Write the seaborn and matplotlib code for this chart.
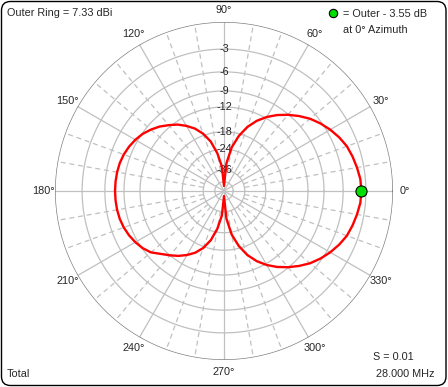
import numpy as np
import seaborn as sns
import matplotlib.pyplot as plt
from matplotlib.patches import FancyBboxPatch

# azimuth pattern, dB relative to the outer ring (outer ring = 7.33 dBi)
azimuth_deg = list(range(0, 365, 5))
rel_db = [-3.55, -3.62, -3.85, -4.1, -4.4, -4.9, -5.5, -6.2, -7.0, -8.0,
          -9.1, -10.3, -11.7, -13.4, -15.6, -18.7, -23.0, -31.0, -60.0, -33.0,
          -25.5, -20.5, -17.5, -15.4, -13.9, -12.6, -11.6, -10.6, -9.8, -9.1,
          -8.6, -8.2, -7.9, -7.7, -7.6, -7.55, -7.53, -7.55, -7.6, -7.7,
          -7.9, -8.2, -8.6, -9.1, -9.8, -11.0, -12.0, -13.0, -14.2, -15.6,
          -17.6, -20.6, -25.5, -33.0, -60.0, -31.0, -23.0, -18.7, -15.6, -13.4,
          -11.7, -10.3, -9.1, -8.0, -7.0, -6.2, -5.5, -4.9, -4.4, -4.1,
          -3.85, -3.62, -3.55]

ring_db = [-3, -6, -9, -12, -18, -24, -36, -50]
ring_labels = ["-3", "-6", "-9", "-12", "-18", "-24", "-36", ""]
angle_labels = [0, 30, 60, 90, 120, 150, 180, 210, 240, 270, 300, 330]

outer_ring_dbi = 7.33
marker_az = 0
marker_db = -3.55


def arrl(db):
    # ARRL log scale: radius 0.89 per 2 dB
    return 0.89 ** (-np.asarray(db, dtype=float) / 2.0)


sns.set_style("white")
plt.rcParams['font.family'] = ['Liberation Sans', 'DejaVu Sans']
fs = 7.8
grid_c = "#c0c0c0"

fig = plt.figure(figsize=(4.48, 3.87), dpi=100)
ax = fig.add_axes([55 / 448, 27 / 387, 338 / 448, 338 / 387], projection='polar')
ax.set_ylim(0, 1)
ax.set_xticks([])
ax.set_yticks([])
ax.grid(False)
ax.spines['polar'].set_visible(False)
ax.set_facecolor("white")

full = np.linspace(0, 2 * np.pi, 361)
# rings
for db in ring_db:
    ax.plot(full, np.full_like(full, arrl(db)), color=grid_c, lw=0.9, zorder=1)
ax.plot(full, np.ones_like(full), color="#808080", lw=1.0, zorder=2)

# radial lines
r_in = float(arrl(-36))
for a in range(0, 360, 10):
    t = np.deg2rad(a)
    if a % 30 == 0:
        ax.plot([t, t], [0, 1], color=grid_c, lw=0.9, zorder=1)
    else:
        ax.plot([t, t], [r_in, 1], color=grid_c, lw=0.9, ls=(0, (4, 3)), zorder=1)

# ring labels on the 90 deg line
for db, lab in zip(ring_db, ring_labels):
    if lab:
        ax.text(np.pi / 2, arrl(db), lab, ha='center', va='center', fontsize=fs, zorder=4)

# angle labels
for a in angle_labels:
    ax.text(np.deg2rad(a), 1.07, f"{a}°", ha='center', va='center', fontsize=fs,
            clip_on=False)

# pattern
theta = np.deg2rad(azimuth_deg)
sns.lineplot(x=theta, y=arrl(rel_db), ax=ax, sort=False, estimator=None,
             color="red", lw=1.7, zorder=5)
ax.plot([np.deg2rad(marker_az)], [arrl(marker_db)], 'o', color="#00e000",
        mec="black", mew=0.8, ms=8, zorder=6, clip_on=False)

# annotations
fig.text(7 / 448, 1 - 13 / 387, f"Outer Ring = {outer_ring_dbi:.2f} dBi", fontsize=fs,
         va='center')
fig.text(7 / 448, 1 - 374 / 387, "Total", fontsize=fs, va='center')
fig.text(434 / 448, 1 - 374 / 387, "28.000 MHz", fontsize=fs, va='center', ha='right')
fig.text(373 / 448, 1 - 357 / 387, "S = 0.01", fontsize=fs, va='center')
fig.text(343 / 448, 1 - 14 / 387, f"= Outer - {abs(marker_db):.2f} dB", fontsize=fs,
         va='center')
fig.text(343 / 448, 1 - 30 / 387, f"at {marker_az}° Azimuth", fontsize=fs, va='center')
fig.lines.append(plt.Line2D([333 / 448], [1 - 13 / 387], marker='o', color="#00e000",
                            mec="black", mew=0.8, ms=6, transform=fig.transFigure))

border = FancyBboxPatch((0.015, 0.015), 4.445, 3.84,
                        boxstyle="round,pad=0,rounding_size=0.09",
                        transform=fig.dpi_scale_trans, fill=False, ec="black", lw=1.0)
fig.patches.append(border)

fig.savefig("out.png", dpi=100, facecolor="white")
